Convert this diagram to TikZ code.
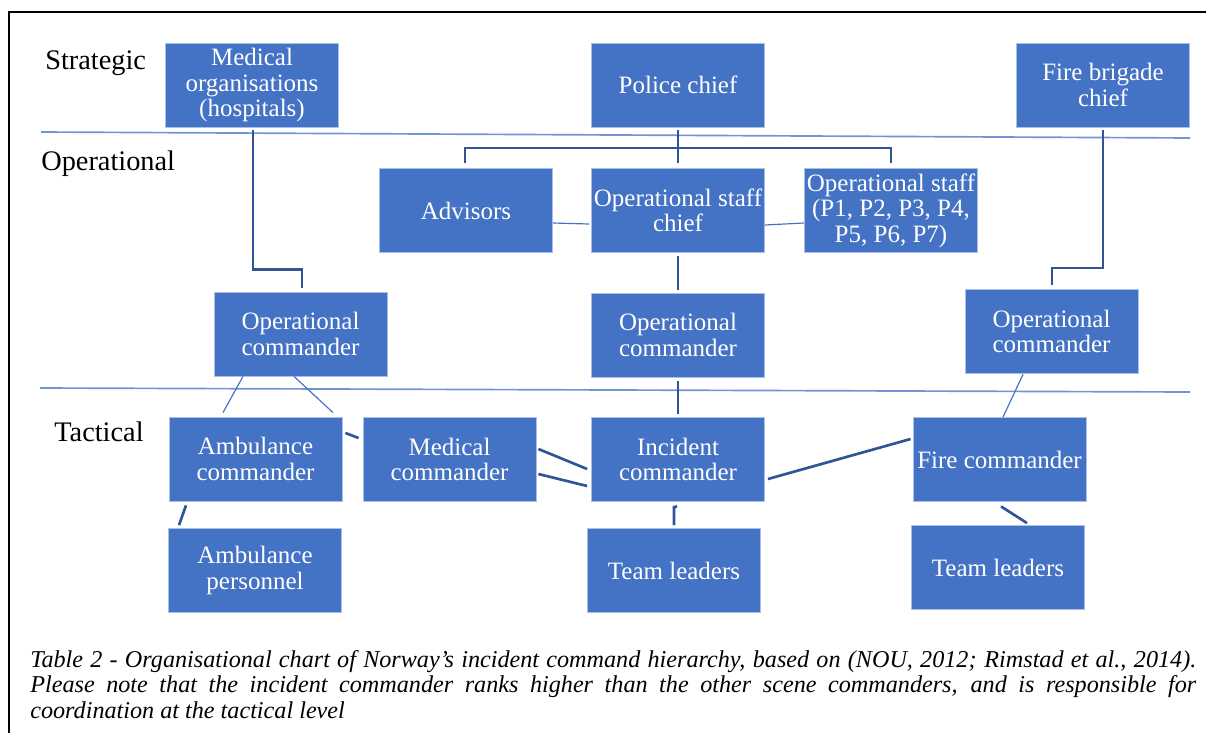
\documentclass[tikz,border=0pt]{standalone}
\usepackage{fontspec}
\setmainfont{Liberation Serif}
\usetikzlibrary{calc}
\definecolor{boxblue}{HTML}{4472C4}
\definecolor{boxedge}{HTML}{A9C0E8}
\definecolor{linedark}{HTML}{2F5597}
\definecolor{sepblue}{HTML}{7394D2}
\begin{document}
\begin{tikzpicture}[x=0.6pt,y=-0.6pt,
  box/.style={fill=boxblue, draw=boxedge, line width=0.5pt, minimum width=103.8pt, minimum height=50.4pt, inner sep=0pt, align=center, text=white, font=\fontsize{15}{15.3}\selectfont},
  lvl/.style={anchor=base west, inner sep=0pt, font=\fontsize{17}{17}\selectfont},
  conn/.style={draw=linedark, line width=1.6pt},
  thinconn/.style={draw=boxblue, line width=0.7pt},
  sepline/.style={draw=sepblue, line width=1pt}]
\useasboundingbox (0,0) rectangle (1206,733);
% frame
\draw[black, line width=0.9pt] (9,733) -- (9,12) -- (1206,12);
% level separators
\draw[sepline] (41,132) -- (1190,138);
\draw[sepline] (40,388) -- (1190,392);
% level labels
\node[lvl] (lstrat) at (45,70) {Strategic};
\node[lvl] (loper) at (41,170) {Operational};
\node[lvl] (ltact) at (54,441) {Tactical};
% boxes
\node[box] (med) at (252,85) {Medical\\organisations\\(hospitals)};
\node[box] (police) at (678,85) {Police chief};
\node[box] (firechief) at (1103,85) {Fire brigade\\chief};
\node[box] (adv) at (466,210.5) {Advisors};
\node[box] (sc) at (678,210.5) {Operational staff\\chief};
\node[box] (staff) at (891,210.5) {Operational staff\\(P1, P2, P3, P4,\\P5, P6, P7)};
\node[box] (opL) at (300.5,334) {Operational\\commander};
\node[box] (opC) at (678,335) {Operational\\commander};
\node[box] (opR) at (1051.5,331.5) {Operational\\commander};
\node[box] (ambc) at (255.5,459) {Ambulance\\commander};
\node[box] (medc) at (449.5,459.5) {Medical\\commander};
\node[box] (incc) at (678,459.5) {Incident\\commander};
\node[box] (firec) at (999.5,459.5) {Fire commander};
\node[box] (ambp) at (255,570.5) {Ambulance\\personnel};
\node[box] (teamC) at (674,570.5) {Team leaders};
\node[box] (teamR) at (998,567.5) {Team leaders};
% connectors
\draw[conn] ($(police.south)+(0,3)$) -- ($(sc.north)+(0,-5)$);
\draw[conn] ($(adv.north)+(-1,-5)$) |- ($(staff.north)+(0,-20)$) -- ($(staff.north)+(0,-5)$);
\draw[thinconn] ($(adv.east)+(0,12.5)$) -- ($(sc.west)+(-2,13.5)$);
\draw[thinconn] ($(sc.east)+(0,14.5)$) -- ($(staff.west)+(0,12.5)$);
\draw[conn] ($(med.south)+(1,3)$) |- ($(opL.north)+(1.5,-22)$) -- ($(opL.north)+(1.5,-4)$);
\draw[conn] ($(sc.south)+(0,3.5)$) -- ($(opC.north)+(0,-3)$);
\draw[conn] ($(firechief.south)+(0,3)$) |- ($(opR.north)+(0.5,-21)$) -- ($(opR.north)+(0.5,-4)$);
\draw[thinconn] ($(opL.south)+(-57.5,0)$) -- ($(ambc.north)+(-32.5,-4)$);
\draw[thinconn] ($(opL.south)+(-6.5,0)$) -- ($(ambc.north)+(77.5,-4)$);
\draw[conn] ($(ambc.east)+(3,-26)$) -- ($(medc.west)+(-4,-21.5)$);
\draw[conn] ($(medc.east)+(2,-10.5)$) -- ($(incc.west)+(-4,9.5)$);
\draw[conn] ($(medc.east)+(2,14.5)$) -- ($(incc.west)+(-4,26.5)$);
\draw[conn] ($(opC.south)+(0,4)$) -- ($(incc.north)+(0,-3)$);
\draw[conn] ($(incc.east)+(3,19.5)$) -- ($(firec.west)+(-2,-20.5)$);
\draw[thinconn] ($(opR.south)+(-28.5,0.5)$) -- ($(firec.north)+(3.5,0)$);
\draw[conn] ($(ambc.south)+(-69.5,4)$) -- ($(ambp.north)+(-76,-3)$);
\draw[conn] ($(incc.south)+(-1,4.5)$) -- ($(teamC.north)+(0,-21)$) -- ($(teamC.north)+(0,-3)$);
\draw[conn] ($(firec.south)+(1.5,4.5)$) -- ($(teamR.north)+(29,-2)$);
% caption
\node[anchor=base west, text width=699.6pt, inner sep=0pt, align=justify, font=\fontsize{14.5}{15.3}\selectfont\itshape] (cap) at (30,667) {Table 2 - Organisational chart of Norway's incident command hierarchy, based on (NOU, 2012; Rimstad et al., 2014).\linebreak Please note that the incident commander ranks higher than the other scene commanders, and is responsible for\linebreak coordination at the tactical level};
\end{tikzpicture}
\end{document}
